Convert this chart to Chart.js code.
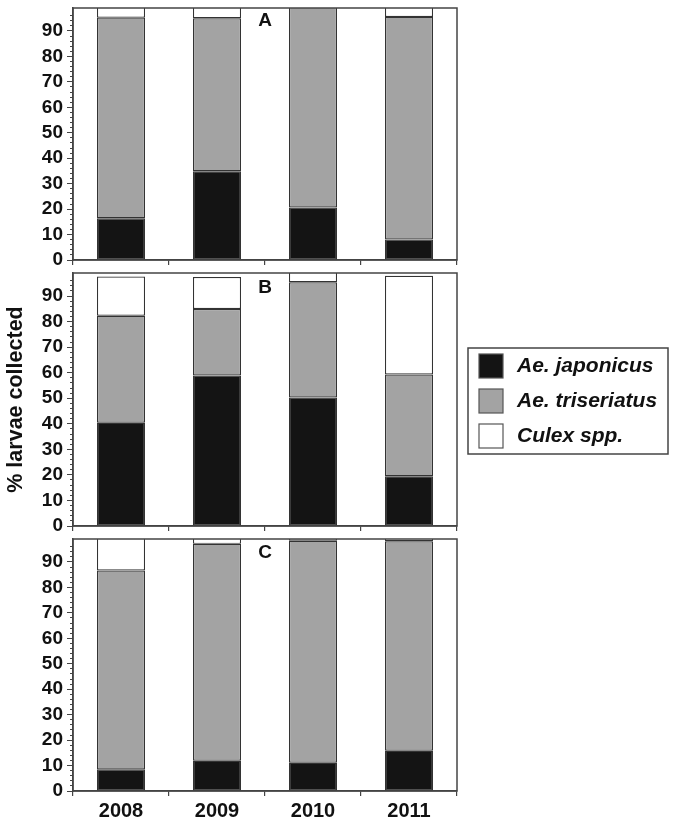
<!DOCTYPE html>
<html>
<head>
<meta charset="utf-8">
<script src="https://cdn.jsdelivr.net/npm/chart.js@4.4.1/dist/chart.umd.min.js"></script>
<style>
  html, body { margin: 0; padding: 0; background: #fff; }
  #wrap { position: relative; width: 675px; height: 826px; }
  canvas { position: absolute; left: 0; }
</style>
</head>
<body>
<div id="wrap">
  <canvas id="panelA" width="675" height="270" style="top:0px"></canvas>
  <canvas id="panelB" width="675" height="271" style="top:265px"></canvas>
  <canvas id="panelC" width="675" height="296" style="top:530px"></canvas>
</div>
<script>
// ---- Data (segment sizes, % of larvae) ----
const years = ['2008', '2009', '2010', '2011'];
const speciesNames = ['Ae. japonicus', 'Ae. triseriatus', 'Culex spp.'];
const speciesColors = ['#141414', '#a3a3a3', '#ffffff'];
const yMax = 99;

// Panel A
const japonicusA = [16.4, 34.9, 20.6, 8.1];
const triseriatusA = [78.8, 60.1, 79.4, 87.4];
const culexA = [4.8, 5.0, 0, 4.5];

// Panel B
const japonicusB = [40.4, 58.9, 50.3, 19.5];
const triseriatusB = [41.9, 26.0, 45.1, 39.8];
const culexB = [15.3, 12.5, 4.6, 38.6];

// Panel C
const japonicusC = [8.5, 11.9, 11.1, 15.8];
const triseriatusC = [78.1, 85.2, 87.2, 82.3];
const culexC = [13.4, 2.9, 1.7, 1.9];

const FONT = "'Liberation Sans', Arial, Helvetica, sans-serif";
const INK = '#111';
const LINE = '#444';

// box round the plot area + the panel letter
const panelBox = {
  id: 'panelBox',
  afterDatasetsDraw(chart, args, opts) {
    const a = chart.chartArea;
    const ctx = chart.ctx;
    ctx.save();
    ctx.strokeStyle = LINE;
    ctx.lineWidth = 1.5;
    ctx.strokeRect(a.left, a.top, a.right - a.left, a.bottom - a.top);
    if (opts.text) {
      ctx.fillStyle = INK;
      ctx.font = 'bold 19px ' + FONT;
      ctx.textAlign = 'center';
      ctx.textBaseline = 'middle';
      ctx.fillText(opts.text, (a.left + a.right) / 2, a.top + opts.dy);
    }
    ctx.restore();
  }
};

// boxed legend to the right of panel B
const boxLegend = {
  id: 'boxLegend',
  afterDraw(chart, args, opts) {
    if (!opts.show) return;
    const ctx = chart.ctx;
    const top = opts.top - chart.canvas.offsetTop;
    ctx.save();
    ctx.strokeStyle = LINE;
    ctx.lineWidth = 1.5;
    ctx.strokeRect(opts.left, top, opts.width, opts.height);
    ctx.font = 'italic bold 21px ' + FONT;
    ctx.textBaseline = 'middle';
    chart.data.datasets.forEach((ds, i) => {
      const y = top + 6 + i * 35;
      ctx.fillStyle = ds.backgroundColor;
      ctx.fillRect(opts.left + 11, y, 24, 24);
      ctx.strokeStyle = '#555';
      ctx.lineWidth = 1.2;
      ctx.strokeRect(opts.left + 11, y, 24, 24);
      ctx.fillStyle = INK;
      ctx.fillText(ds.label, opts.left + 49, y + 12);
    });
    ctx.restore();
  }
};

function makeDatasets(jap, tri, cul) {
  return [jap, tri, cul].map((vals, i) => ({
    label: speciesNames[i],
    data: vals,
    backgroundColor: speciesColors[i],
    borderColor: '#333',
    borderWidth: 1.2,
    borderSkipped: false,
    barPercentage: 0.5,
    categoryPercentage: 1.0
  }));
}

function makePanel(id, jap, tri, cul, cfg) {
  const ctx = document.getElementById(id).getContext('2d');
  return new Chart(ctx, {
    type: 'bar',
    data: { labels: years, datasets: makeDatasets(jap, tri, cul) },
    options: {
      responsive: false,
      animation: false,
      layout: { padding: { top: cfg.padTop, right: 218, bottom: 0, left: 0 } },
      plugins: {
        legend: { display: false },
        tooltip: { enabled: false },
        panelBox: { text: cfg.letter, dy: cfg.letterDy },
        boxLegend: { show: !!cfg.legend, left: 468, top: 348, width: 200, height: 106 }
      },
      scales: {
        x: {
          stacked: true,
          grid: { drawOnChartArea: false, drawTicks: true, tickLength: 5, color: LINE, lineWidth: 1.2 },
          border: { display: true, color: LINE, width: 1.5 },
          ticks: {
            display: cfg.showYears,
            color: INK,
            padding: 3,
            font: { family: FONT, size: 20, weight: 'bold' }
          },
          afterFit: s => { s.height = cfg.xHeight; s.paddingLeft = 0; s.paddingRight = 0; }
        },
        y: {
          stacked: true,
          min: 0,
          max: yMax,
          afterBuildTicks: s => { s.ticks = s.ticks.filter(t => t.value % 2 === 0); },
          afterFit: s => { s.width = 73; s.paddingTop = 0; s.paddingBottom = 0; },
          grid: {
            drawOnChartArea: false,
            drawTicks: true,
            tickLength: 6,
            color: LINE,
            lineWidth: 1,
            tickBorderDash: c => (c.tick && c.tick.value % 10 === 0) ? [] : [0, 3, 4, 20]
          },
          border: { display: true, color: LINE, width: 1.5 },
          ticks: {
            stepSize: 2,
            autoSkip: false,
            padding: 4,
            color: INK,
            font: { family: FONT, size: 19, weight: 'bold' },
            callback: v => (v % 10 === 0 && v <= 90) ? String(v) : ''
          },
          title: {
            display: !!cfg.yTitle,
            text: cfg.yTitle || '',
            color: INK,
            padding: { top: 3, bottom: 0 },
            font: { family: FONT, size: 21.5, weight: 'bold' }
          }
        }
      }
    },
    plugins: [panelBox, boxLegend]
  });
}

makePanel('panelA', japonicusA, triseriatusA, culexA,
  { padTop: 8, xHeight: 10, letter: 'A', letterDy: 13, showYears: false });
makePanel('panelB', japonicusB, triseriatusB, culexB,
  { padTop: 8, xHeight: 10, letter: 'B', letterDy: 15, showYears: false,
    legend: true, yTitle: '% larvae collected' });
makePanel('panelC', japonicusC, triseriatusC, culexC,
  { padTop: 9, xHeight: 35, letter: 'C', letterDy: 14, showYears: true });
</script>
</body>
</html>
